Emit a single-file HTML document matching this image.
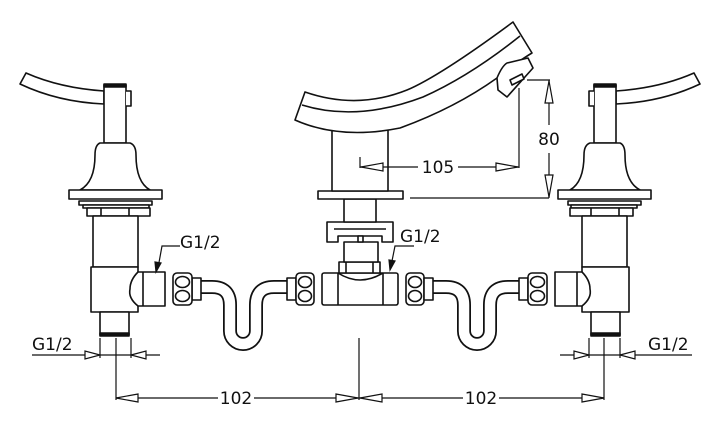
<!DOCTYPE html>
<html><head><meta charset="utf-8"><style>
html,body{margin:0;padding:0;background:#fff;}
svg{display:block;}
text{font-family:"DejaVu Sans","Liberation Sans",sans-serif;font-size:17px;fill:#111;}
</style></head><body>
<svg width="720" height="428" viewBox="0 0 720 428" xmlns="http://www.w3.org/2000/svg">
<defs>
<g id="side" fill="#fff" stroke="#111" stroke-width="1.6" stroke-linejoin="round">
  <!-- lever -->
  <path d="M26,73 Q60,88 104,91 L104,104 Q58,102 20,84 Z"/>
  <rect x="104" y="85" width="22" height="58"/>
  <rect x="104" y="84" width="22" height="3" fill="#111"/>
  <path d="M126,91 L131,91 L131,106 L126,106"/>
  <!-- bell -->
  <path d="M100,143 L130,143 Q136,145 136,155 Q136,182 150,190 L80,190 Q95,182 95,155 Q95,145 100,143 Z"/>
  <rect x="69" y="190" width="93" height="9"/>
  <rect x="79" y="201" width="73" height="4"/>
  <rect x="83" y="205" width="66" height="3"/>
  <rect x="87" y="208" width="63" height="8"/>
  <line x1="101" y1="208" x2="101" y2="216"/><line x1="129" y1="208" x2="129" y2="216"/>
  <rect x="93" y="216" width="45" height="51"/>
  <rect x="91" y="267" width="47" height="45"/>
  <path d="M138,272 L165,272 L165,306 L138,306 Q128,298 130,289 Q130,280 138,272 Z"/>
  <line x1="143" y1="272" x2="143" y2="306"/>
  <rect x="100" y="312" width="29" height="23"/>
  <rect x="100" y="333" width="29" height="3" fill="#111"/>
  <!-- S pipe -->
  <path d="M200,287 L212,287 Q230,287 230,305 L230,331 A13,13 0 0 0 256,331 L256,305 Q256,287 274,287 L288,287" fill="none" stroke="#111" stroke-width="14"/>
  <path d="M200,287 L212,287 Q230,287 230,305 L230,331 A13,13 0 0 0 256,331 L256,305 Q256,287 274,287 L288,287" fill="none" stroke="#fff" stroke-width="10.5"/>
  <rect x="192" y="278" width="9" height="22"/>
  <rect x="173" y="273" width="19" height="32" rx="4"/>
  <ellipse cx="182.5" cy="282" rx="7" ry="5.5"/><ellipse cx="182.5" cy="296" rx="7" ry="5.5"/>
</g>
</defs>
<rect width="720" height="428" fill="#fff"/>
<use href="#side"/>
<use href="#side" transform="translate(720,0) scale(-1,1)"/>
<g fill="#fff" stroke="#111" stroke-width="1.6" stroke-linejoin="round">
  <rect x="287" y="278" width="9" height="22"/>
  <rect x="296" y="273" width="18" height="32" rx="4"/>
  <ellipse cx="305" cy="282" rx="6.5" ry="5.5"/><ellipse cx="305" cy="296" rx="6.5" ry="5.5"/>
  <rect x="406" y="273" width="18" height="32" rx="4"/>
  <ellipse cx="415" cy="282" rx="6.5" ry="5.5"/><ellipse cx="415" cy="296" rx="6.5" ry="5.5"/>
  <rect x="424" y="278" width="9" height="22"/>
  <!-- tee -->
  <rect x="322" y="273" width="76" height="32" rx="2"/>
  <line x1="338" y1="273" x2="338" y2="305"/><line x1="383" y1="273" x2="383" y2="305"/>
  <path d="M338,273 Q360,287 383,273" fill="none"/>
  <rect x="339" y="262" width="41" height="11"/>
  <line x1="346" y1="262" x2="346" y2="273"/><line x1="373" y1="262" x2="373" y2="273"/>
  <rect x="344" y="242" width="34" height="20"/>
  <path d="M327,222 L393,222 L393,242 L382,242 L382,236 L338,236 L338,242 L327,242 Z"/>
  <path d="M334,229 L386,229" fill="none"/>
  <rect x="358" y="236" width="5" height="6"/>
  <rect x="344" y="199" width="32" height="23"/>
  <rect x="318" y="191" width="85" height="8"/>
  <rect x="332" y="128" width="56" height="63"/>
  <!-- spout -->
  <path d="M305,92 Q357,110 407,90 Q440,76 513,22 L532,53 Q520,60 497,78 Q455,108 400,128 Q340,140 295,120 Z"/>
  <path d="M302,105 Q357,122 423,97 Q470,76 520,36" fill="none"/>
  <path d="M497,78 Q502,66 507,63 L528,58 L533,68 L507,97 L498,90 Z"/>
  <path d="M510,80 L522,74 L524,79 L512,85 Z"/>
</g>
<g stroke="#111" stroke-width="1.2" fill="#fff">
  <line x1="360" y1="157" x2="360" y2="168"/>
  <line x1="360" y1="167" x2="418" y2="167"/><line x1="458" y1="167" x2="519" y2="167"/>
  <line x1="519" y1="88" x2="519" y2="168"/>
  <path d="M361,167 L383,163 L383,171 Z"/><path d="M518,167 L496,163 L496,171 Z"/>
  <line x1="527" y1="80" x2="550" y2="80"/>
  <line x1="549" y1="80" x2="549" y2="125"/><line x1="549" y1="153" x2="549" y2="198"/>
  <line x1="410" y1="198" x2="549" y2="198"/>
  <path d="M549,81 L545,103 L553,103 Z"/><path d="M549,197 L545,175 L553,175 Z"/>
  <polyline points="180,246 162,246 158,268" fill="none"/>
  <path d="M156,272 L155,262 L161,263 Z" fill="#111"/>
  <polyline points="414,246 395,246 391,266" fill="none"/>
  <path d="M390,270 L389,260 L395,261 Z" fill="#111"/>
  <line x1="32" y1="355" x2="160" y2="355"/>
  <line x1="100" y1="338" x2="100" y2="358"/><line x1="116" y1="338" x2="116" y2="400"/><line x1="131" y1="338" x2="131" y2="358"/>
  <path d="M100,355 L85,351 L85,359 Z"/><path d="M131,355 L146,351 L146,359 Z"/>
  <line x1="560" y1="355" x2="692" y2="355"/>
  <line x1="589" y1="338" x2="589" y2="358"/><line x1="604" y1="338" x2="604" y2="400"/><line x1="620" y1="338" x2="620" y2="358"/>
  <path d="M589,355 L574,351 L574,359 Z"/><path d="M620,355 L635,351 L635,359 Z"/>
  <line x1="359" y1="338" x2="359" y2="400"/>
  <line x1="116" y1="398" x2="218" y2="398"/><line x1="254" y1="398" x2="463" y2="398"/><line x1="499" y1="398" x2="604" y2="398"/>
  <path d="M116,398 L138,394 L138,402 Z"/><path d="M358,398 L336,394 L336,402 Z"/>
  <path d="M360,398 L382,394 L382,402 Z"/><path d="M604,398 L582,394 L582,402 Z"/>
</g>
<text x="438" y="173" text-anchor="middle">105</text>
<text x="549" y="145" text-anchor="middle">80</text>
<text x="180" y="248">G1/2</text>
<text x="400" y="242">G1/2</text>
<text x="32" y="350">G1/2</text>
<text x="648" y="350">G1/2</text>
<text x="236" y="404" text-anchor="middle">102</text>
<text x="481" y="404" text-anchor="middle">102</text>
</svg>
</body></html>
